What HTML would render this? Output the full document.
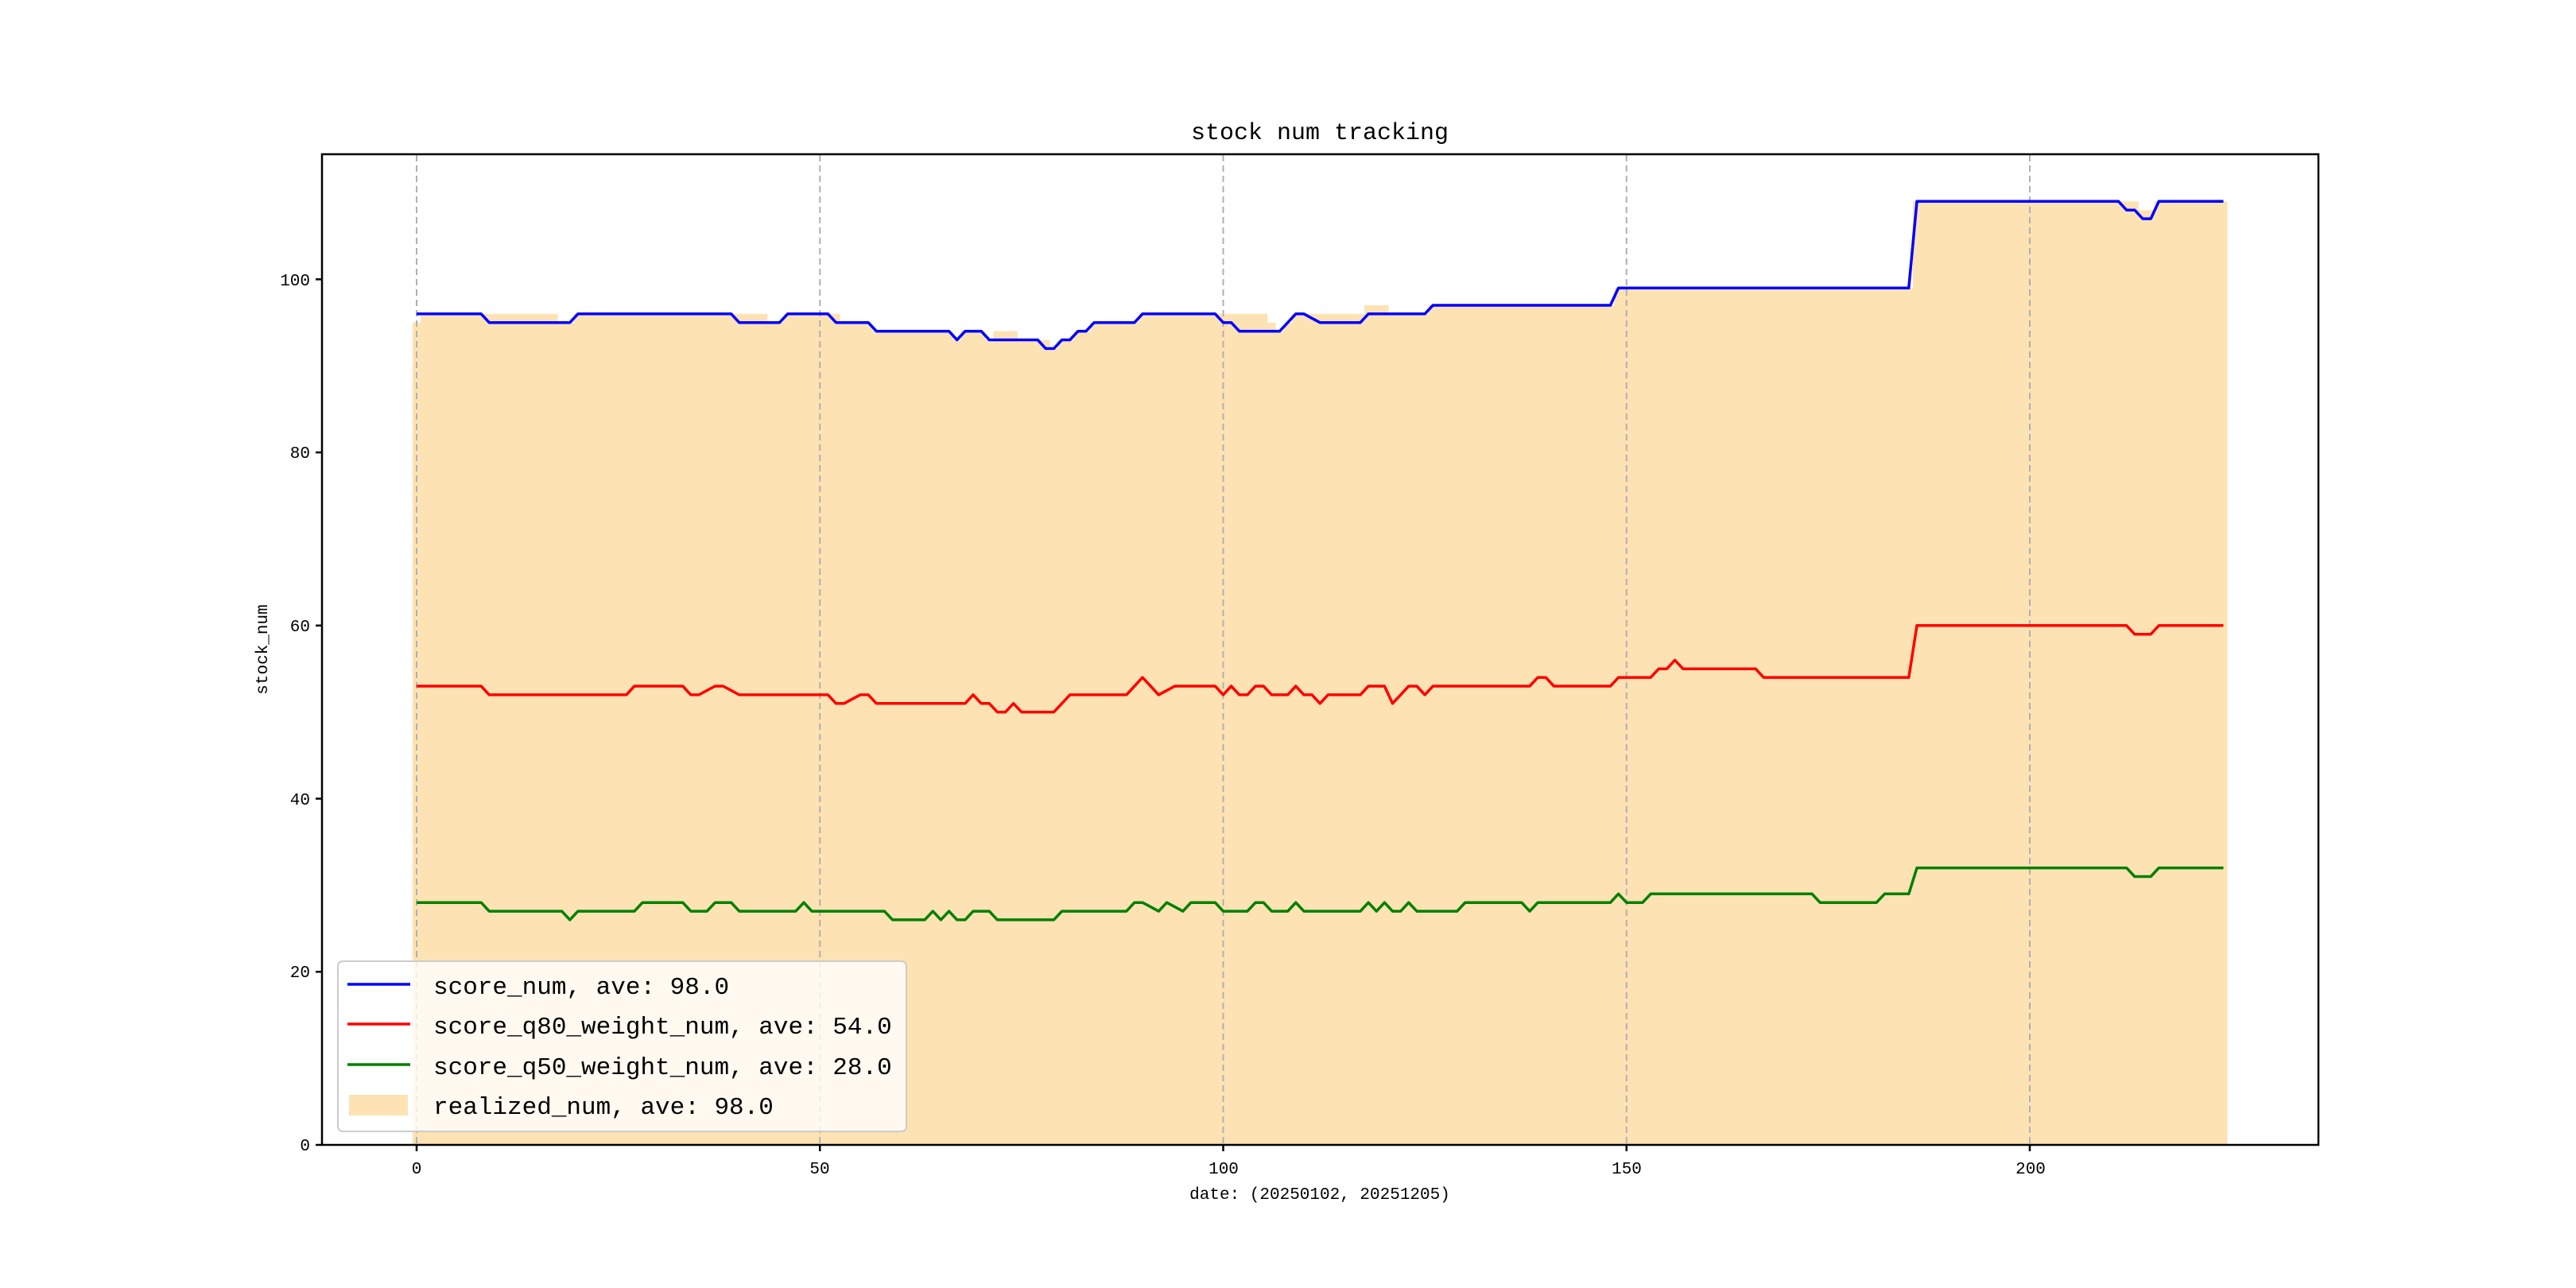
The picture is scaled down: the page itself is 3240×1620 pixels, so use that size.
<!DOCTYPE html>
<html><head><meta charset="utf-8"><style>
html,body{margin:0;padding:0;background:#fff;}
svg{display:block;}
text{font-family:"Liberation Mono","WenQuanYi Zen Hei",monospace;fill:#000;}
</style></head><body>
<svg id="s" width="3240" height="1620" viewBox="0 0 3240 1620" xmlns="http://www.w3.org/2000/svg">
<rect width="3240" height="1620" fill="#fff"/>
<g id="bars"></g>
<g id="grid" stroke="#b0b0b0" stroke-width="2" stroke-dasharray="8,5"></g>
<g id="lines" fill="none" stroke-width="3.5" stroke-linejoin="round"></g>
<rect x="405" y="194" width="2511" height="1246" fill="none" stroke="#000" stroke-width="2.5"/>
<g id="ticks" stroke="#000" stroke-width="2.5"></g>
<g font-size="21" text-anchor="end">
<text x="390" y="1447">0</text><text x="390" y="1229">20</text><text x="390" y="1012">40</text>
<text x="390" y="794">60</text><text x="390" y="576">80</text><text x="390" y="359">100</text>
</g>
<g font-size="21" text-anchor="middle">
<text x="524" y="1476">0</text><text x="1031" y="1476">50</text><text x="1539" y="1476">100</text>
<text x="2046" y="1476">150</text><text x="2554" y="1476">200</text>
<text x="1660" y="1508">date: (20250102, 20251205)</text>
<text x="336" y="817" transform="rotate(-90 336 817)">stock_num</text>
<text x="1660" y="175" font-size="30">stock num tracking</text>
</g>
<rect x="425" y="1209" width="715" height="214" rx="6" fill="#fff" fill-opacity="0.8" stroke="#cccccc" stroke-width="2"/>
<line x1="437" y1="1238" x2="516" y2="1238" stroke="#0000ff" stroke-width="3.5"/>
<line x1="437" y1="1288" x2="516" y2="1288" stroke="#ff0000" stroke-width="3.5"/>
<line x1="437" y1="1339" x2="516" y2="1339" stroke="#008000" stroke-width="3.5"/>
<rect x="439" y="1377" width="74" height="26" fill="#fde2b3"/>
<g font-size="31">
<text x="545" y="1250">score_num, ave: 98.0</text>
<text x="545" y="1300">score_q80_weight_num, ave: 54.0</text>
<text x="545" y="1351">score_q50_weight_num, ave: 28.0</text>
<text x="545" y="1401">realized_num, ave: 98.0</text>
</g>
</svg>
<script>
function build(runs){var a=new Array(225);runs.forEach(function(r){for(var i=r[0];i<=r[1];i++)a[i]=r[2];});
for(var i=0;i<225;i++){if(a[i]===undefined){var j=i;while(a[j]===undefined)j++;var p=a[i-1],q=a[j];for(var k=i;k<j;k++)a[k]=p+(q-p)*(k-i+1)/(j-i+1);i=j;}}return a;}
var X=function(i){return 524+10.145*i},Y=function(v){return 1440-10.887*v};
var blue=build([[0,8,96],[9,19,95],[20,39,96],[40,45,95],[46,51,96],[52,56,95],[57,66,94],[67,67,93],[68,70,94],[71,77,93],[78,79,92],[80,81,93],[82,83,94],[84,89,95],[90,99,96],[100,101,95],[102,107,94],[109,110,96],[112,117,95],[118,125,96],[126,148,97],[149,185,99],[186,211,109],[212,213,108],[214,215,107],[216,224,109]]);
var real=blue.slice();
[[0,0,95],[9,17,96],[40,43,96],[52,52,96],[72,74,94],[78,78,93],[100,105,96],[106,106,95],[111,117,96],[118,120,97],[212,213,109],[214,215,108]].forEach(function(r){for(var i=r[0];i<=r[1];i++)real[i]=r[2];});
var red=build([[0,8,53],[9,26,52],[27,33,53],[34,35,52],[37,38,53],[40,51,52],[52,53,51],[55,56,52],[57,68,51],[69,69,52],[70,71,51],[72,73,50],[74,74,51],[75,79,50],[80,80,51],[81,88,52],[90,90,54],[92,92,52],[94,99,53],[100,100,52],[101,101,53],[102,103,52],[104,105,53],[106,108,52],[109,109,53],[110,111,52],[112,112,51],[113,117,52],[118,120,53],[121,121,51],[123,124,53],[125,125,52],[126,138,53],[139,140,54],[141,148,53],[149,153,54],[154,155,55],[156,156,56],[157,166,55],[167,185,54],[186,212,60],[213,215,59],[216,224,60]]);
var green=build([[0,8,28],[9,18,27],[19,19,26],[20,27,27],[28,33,28],[34,36,27],[37,39,28],[40,47,27],[48,48,28],[49,58,27],[59,63,26],[64,64,27],[65,65,26],[66,66,27],[67,68,26],[69,71,27],[72,79,26],[80,88,27],[89,90,28],[92,92,27],[93,93,28],[95,95,27],[96,99,28],[100,103,27],[104,105,28],[106,108,27],[109,109,28],[110,117,27],[118,118,28],[119,119,27],[120,120,28],[121,122,27],[123,123,28],[124,129,27],[130,137,28],[138,138,27],[139,148,28],[149,149,29],[150,152,28],[153,173,29],[174,181,28],[182,185,29],[186,212,32],[213,215,31],[216,224,32]]);
var NS="http://www.w3.org/2000/svg";
function el(p,t,at){var e=document.createElementNS(NS,t);for(var k in at)e.setAttribute(k,at[k]);document.getElementById(p).appendChild(e);}
var d="M"+X(-0.5)+" 1440";for(var i=0;i<225;i++){d+=" L"+X(i-0.5).toFixed(1)+" "+Y(real[i]).toFixed(1)+" L"+X(i+0.5).toFixed(1)+" "+Y(real[i]).toFixed(1);}d+=" L"+X(224.5)+" 1440Z";
el("bars","path",{d:d,fill:"#fde2b3"});
[0,50,100,150,200].forEach(function(v){el("grid","line",{x1:X(v),x2:X(v),y1:195,y2:1439});el("ticks","line",{x1:X(v),x2:X(v),y1:1440,y2:1448});});
[0,20,40,60,80,100].forEach(function(v){el("ticks","line",{x1:397,x2:405,y1:Y(v),y2:Y(v)});});
function line(a,c){var s="";for(var i=0;i<225;i++)s+=(i?" L":"M")+X(i).toFixed(1)+" "+Y(a[i]).toFixed(1);el("lines","path",{d:s,stroke:c});}
line(blue,"#0000ff");line(red,"#ff0000");line(green,"#008000");
</script>
</body></html>
